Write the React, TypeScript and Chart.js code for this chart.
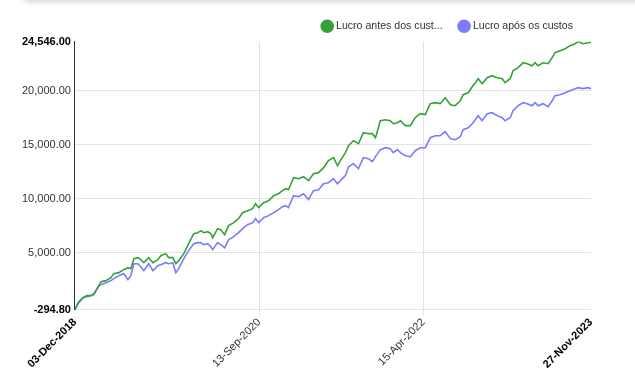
import React, { useEffect, useRef } from 'react';
import { Chart, registerables } from 'chart.js';

Chart.register(...registerables);

const START_DATE = '2018-12-03';
const seriesLabels = ['Lucro antes dos cust...', 'Lucro após os custos'];
const xTickDates = ['2018-12-03', '2020-09-13', '2022-04-15', '2023-11-27'];
const yTickValues = [-294.8, 5000, 10000, 15000, 20000, 24546];

const dayOffsets = [
  0, 11, 28, 42, 56, 67, 81, 92, 109, 127, 137, 155, 172, 187, 197, 208, 222, 232, 243, 250,
  260, 275, 292, 303, 320, 331, 345, 356, 366, 384, 401, 419, 433, 444, 454, 468, 479, 486, 503, 514,
  528, 542, 560, 577, 591, 609, 627, 637, 648, 665, 683, 701, 718, 732, 743, 753, 771, 789, 806, 824,
  841, 859, 877, 894, 912, 926, 936, 954, 965, 982, 1000, 1017, 1035, 1049, 1060, 1077, 1095, 1112, 1123, 1137,
  1148, 1165, 1183, 1200, 1218, 1236, 1253, 1271, 1288, 1306, 1324, 1341, 1359, 1369, 1387, 1401, 1412, 1422, 1436, 1454,
  1471, 1489, 1507, 1517, 1535, 1545, 1563, 1581, 1595, 1612, 1623, 1633, 1651, 1669, 1683, 1693, 1711, 1729, 1746, 1764,
  1774, 1792, 1810, 1820,
];

const lucroAntes = [
  -294.8, 370, 830, 1020, 1020, 1200, 1760, 2310, 2410, 2690, 3060, 3150, 3430, 3610, 3520, 4440, 4540, 4350, 4070, 4260,
  4540, 4070, 4350, 4720, 4910, 4540, 4540, 3980, 4260, 4910, 5830, 6760, 6850, 7040, 6850, 6940, 6760, 6390, 7220, 7130,
  6670, 7500, 7780, 8150, 8700, 8890, 9070, 9540, 9170, 9630, 9810, 10280, 10460, 10740, 10930, 10830, 11940, 11850, 12040, 11670,
  12310, 12410, 12870, 13520, 13800, 13060, 13520, 14260, 14910, 15370, 15090, 16110, 16020, 16020, 15650, 17220, 17310, 17220, 16940, 17040,
  17220, 16760, 16760, 17500, 17870, 17780, 18800, 18890, 18800, 19350, 18700, 18610, 19070, 19630, 19810, 20370, 20740, 21110, 20650, 21200,
  21390, 21200, 21110, 20740, 21110, 21850, 22130, 22590, 22500, 22310, 22590, 22310, 22590, 22500, 23060, 23520, 23700, 23890, 24170, 24350,
  24546, 24350, 24440, 24480,
];

const lucroApos = [
  -294.8, 280, 830, 930, 1020, 1110, 1850, 2040, 2220, 2410, 2590, 2870, 3060, 2500, 2870, 3980, 3980, 3700, 3330, 3610,
  3980, 3330, 3800, 3890, 4070, 3980, 4070, 3150, 3520, 4440, 5190, 5830, 5930, 5930, 5740, 5830, 5560, 5280, 5930, 5740,
  5460, 6200, 6480, 6850, 7220, 7590, 7780, 8150, 7780, 8240, 8430, 8700, 8980, 9260, 9350, 9170, 10280, 10190, 10460, 9910,
  10740, 10830, 11390, 11480, 11850, 11390, 11670, 12130, 12960, 13240, 12780, 13800, 13700, 13430, 13890, 14540, 14720, 14630, 14260, 14540,
  14260, 13980, 13890, 14440, 14720, 14720, 15650, 15830, 15830, 16200, 15560, 15460, 15740, 16390, 16570, 16940, 17310, 17690, 17220, 17870,
  17960, 17690, 17500, 17220, 17500, 18150, 18610, 18890, 18800, 18610, 18890, 18610, 18800, 18520, 19070, 19540, 19630, 19810, 20000, 20190,
  20280, 20190, 20280, 20190,
];

const MONTHS = ['Jan', 'Feb', 'Mar', 'Apr', 'May', 'Jun', 'Jul', 'Aug', 'Sep', 'Oct', 'Nov', 'Dec'];
const DAY_MS = 86400000;
const toUTC = (s: string) => {
  const [y, m, d] = s.split('-').map(Number);
  return Date.UTC(y, m - 1, d);
};
const startMs = toUTC(START_DATE);
const xTickDays = xTickDates.map((s) => Math.round((toUTC(s) - startMs) / DAY_MS));
const formatDay = (day: number) => {
  const dt = new Date(startMs + day * DAY_MS);
  const dd = String(dt.getUTCDate()).padStart(2, '0');
  return `${dd}-${MONTHS[dt.getUTCMonth()]}-${dt.getUTCFullYear()}`;
};
const formatNum = (v: number) =>
  v.toLocaleString('en-US', { minimumFractionDigits: 2, maximumFractionDigits: 2 });

const FONT = "'Liberation Sans', Arial, sans-serif";

export default function App() {
  const ref = useRef<HTMLCanvasElement | null>(null);

  useEffect(() => {
    document.body.style.margin = '0';
    const canvas = ref.current;
    if (!canvas) return;
    const chart = new Chart(canvas, {
      type: 'line',
      data: {
        datasets: [
          {
            label: seriesLabels[0],
            data: dayOffsets.map((d, i) => ({ x: d, y: lucroAntes[i] })),
            borderColor: '#36a136',
            backgroundColor: '#36a136',
            borderWidth: 1.6,
            pointRadius: 0,
            tension: 0,
          },
          {
            label: seriesLabels[1],
            data: dayOffsets.map((d, i) => ({ x: d, y: lucroApos[i] })),
            borderColor: '#7b7bff',
            backgroundColor: '#7b7bff',
            borderWidth: 1.6,
            pointRadius: 0,
            tension: 0,
          },
        ],
      },
      options: {
        responsive: false,
        animation: false,
        layout: { padding: { top: 3, right: 44, left: 18, bottom: 10 } },
        plugins: {
          tooltip: { enabled: false },
          legend: {
            position: 'top',
            align: 'end',
            labels: {
              usePointStyle: true,
              pointStyle: 'circle',
              boxWidth: 7,
              boxHeight: 8.5,
              padding: 18,
              color: '#333',
              font: { family: FONT, size: 10.6 },
            },
          },
        },
        scales: {
          x: {
            type: 'linear',
            min: 0,
            max: xTickDays[xTickDays.length - 1],
            afterBuildTicks: (axis: any) => {
              axis.ticks = xTickDays.map((v) => ({ value: v }));
            },
            border: { display: false },
            grid: {
              color: (ctx: any) =>
                ctx.index === 0 || ctx.index === xTickDays.length - 1 ? 'rgba(0,0,0,0)' : '#e3e3e3',
              tickLength: 6,
            },
            ticks: {
              maxRotation: 45,
              minRotation: 45,
              autoSkip: false,
              padding: 0,
              color: (ctx: any) =>
                ctx.index === 0 || ctx.index === xTickDays.length - 1 ? '#000' : '#333',
              font: (ctx: any) => ({
                family: FONT,
                size: 11,
                weight: ctx.index === 0 || ctx.index === xTickDays.length - 1 ? 'bold' : 'normal',
              }),
              callback: (v: any) => formatDay(Number(v)),
            },
          },
          y: {
            type: 'linear',
            min: yTickValues[0],
            max: yTickValues[yTickValues.length - 1],
            afterBuildTicks: (axis: any) => {
              axis.ticks = yTickValues.map((v) => ({ value: v }));
            },
            border: { display: true, color: '#333', width: 1 },
            grid: {
              drawTicks: false,
              color: (ctx: any) =>
                ctx.index === yTickValues.length - 1 ? 'rgba(0,0,0,0)' : '#e3e3e3',
            },
            ticks: {
              padding: 4,
              color: (ctx: any) =>
                ctx.index === 0 || ctx.index === yTickValues.length - 1 ? '#000' : '#333',
              font: (ctx: any) => ({
                family: FONT,
                size: 11,
                weight: ctx.index === 0 || ctx.index === yTickValues.length - 1 ? 'bold' : 'normal',
              }),
              callback: (v: any) => formatNum(Number(v)),
            },
          },
        },
      },
    });
    return () => chart.destroy();
  }, []);

  return (
    <div style={{ width: 635, height: 381, position: 'relative', overflow: 'hidden' }}>
      <div
        style={{
          position: 'absolute',
          top: -10,
          left: 25,
          width: 640,
          height: 10,
          background: '#fff',
          boxShadow: '0 1px 6px rgba(0,0,0,0.22)',
          zIndex: 1,
        }}
      />
      <canvas ref={ref} width={635} height={381} style={{ display: 'block' }} />
    </div>
  );
}
